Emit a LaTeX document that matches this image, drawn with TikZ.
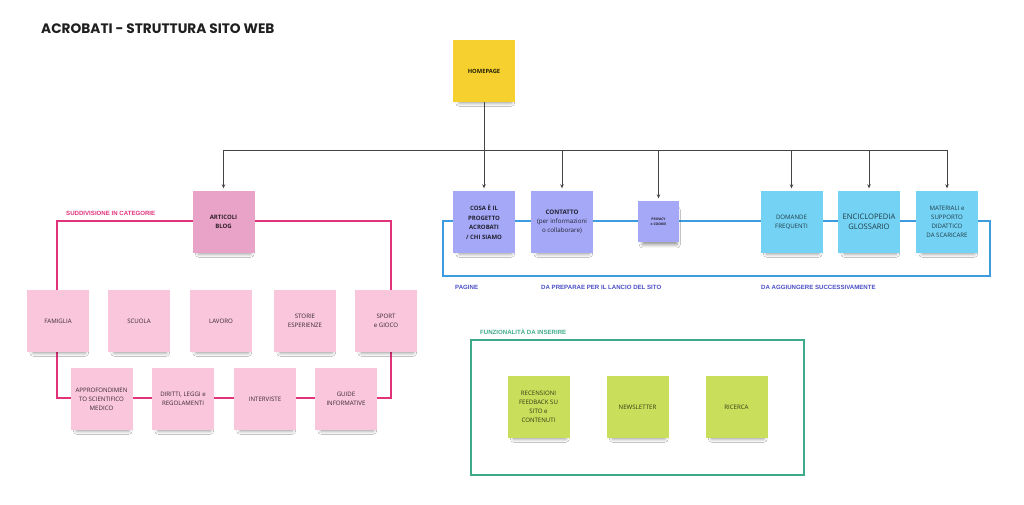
\documentclass[tikz,border=0pt]{standalone}
\usepackage{fontspec}
\setmainfont{Open Sans}
\newfontfamily\titlefont{Poppins}
\newfontfamily\labfont{Liberation Sans}
\usetikzlibrary{arrows.meta,shadows.blur}
\definecolor{yel}{HTML}{F5D02E}
\definecolor{pinkd}{HTML}{E9A2C8}
\definecolor{pinkl}{HTML}{F9C6DB}
\definecolor{lav}{HTML}{A5A8F6}
\definecolor{cyan2}{HTML}{74D3F5}
\definecolor{lime}{HTML}{C9DE5A}
\definecolor{pinkline}{HTML}{E2337A}
\definecolor{blueline}{HTML}{3D9CE0}
\definecolor{bluelab}{HTML}{4A4FC6}
\definecolor{greenline}{HTML}{3FAA8A}
\definecolor{conn}{HTML}{444444}
\tikzset{
  note/.style={minimum width=62pt, minimum height=62pt, inner sep=1pt, align=center,
    font=\fontsize{6.1}{9}\selectfont,
    blur shadow={shadow xshift=1.5pt, shadow yshift=-7pt, shadow blur radius=4pt, shadow opacity=45, shadow scale=0.84}},
  pinknote/.style={note, fill=pinkl, text=black!75!pinkd},
  bluenote/.style={note, fill=lav, text=black!80!lav},
  cyannote/.style={note, fill=cyan2, text=black!72!cyan2},
  greennote/.style={note, fill=lime, text=black!75!lime},
  conline/.style={draw=conn, line width=0.9pt},
  arr/.style={conline, -{Stealth[length=4pt,width=3.5pt]}, shorten >=2.5pt},
  seclab/.style={anchor=west, inner sep=0pt, font=\labfont\bfseries\fontsize{6.1}{7}\selectfont},
  frame/.style={line width=1.3pt}
}
\begin{document}
\begin{tikzpicture}[x=1pt,y=-1pt]
\useasboundingbox[fill=white] (0,0) rectangle (1024,505);

% frames
\draw[frame, draw=pinkline] (57,221) rectangle (391,398);
\draw[frame, draw=blueline] (443,221) rectangle (990,276);
\draw[frame, draw=greenline] (471,340) rectangle (804,475);

% title and labels
\node[anchor=west, inner sep=0pt, font=\titlefont\bfseries\fontsize{13.7}{15}\selectfont, text=black!88] (title) at (41,29) {ACROBATI - STRUTTURA SITO WEB};
\node[seclab, text=pinkline] (lsudd) at (66,213) {SUDDIVISIONE IN CATEGORIE};
\node[seclab, text=bluelab] (lpag) at (455,287) {PAGINE};
\node[seclab, text=bluelab] (llan) at (541,287) {DA PREPARAE PER IL LANCIO DEL SITO};
\node[seclab, text=bluelab] (lagg) at (761,287) {DA AGGIUNGERE SUCCESSIVAMENTE};
\node[seclab, text=greenline] (lfun) at (480,332) {FUNZIONALITÀ DA INSERIRE};

% tree connectors
\coordinate (j) at (484,150);
\coordinate (jl) at (223.5,150);
\coordinate (jr) at (947,150);
\node[note, fill=yel, text=black!85!yel, font=\bfseries\fontsize{5.8}{7}\selectfont] (home) at (484,71) {HOMEPAGE};
\draw[conline] (home.south) -- (j);
\draw[conline] (jl) -- (jr);

\node[note, fill=pinkd, text=black!80!pinkd, font=\bfseries\fontsize{6}{9}\selectfont] (blog) at (223.5,222) {ARTICOLI\\BLOG};
\node[bluenote, font=\bfseries\fontsize{6}{9.5}\selectfont] (cosa) at (484,222) {COSA È IL\\PROGETTO\\ACROBATI\\/ CHI SIAMO};
\node[bluenote, font=\fontsize{6.2}{9}\selectfont] (contatto) at (562,222) {\bfseries CONTATTO\\(per informazioni\\o collaborare)};
\node[bluenote, minimum width=41pt, minimum height=41pt, font=\bfseries\fontsize{3.4}{4.6}\selectfont] (privacy) at (658.5,221.5) {PRIVACY\\e COOKIE};
\node[cyannote] (domande) at (791.5,222) {DOMANDE\\FREQUENTI};
\node[cyannote, font=\fontsize{7.6}{10.5}\selectfont] (encic) at (869,222) {ENCICLOPEDIA\\GLOSSARIO};
\node[cyannote] (mater) at (947,222) {MATERIALI e\\SUPPORTO\\DIDATTICO\\DA SCARICARE};

\draw[arr] (blog.north |- j) -- (blog.north);
\draw[arr] (j) -- (cosa.north);
\draw[arr] (contatto.north |- j) -- (contatto.north);
\draw[arr] (privacy.north |- j) -- (privacy.north);
\draw[arr] (domande.north |- j) -- (domande.north);
\draw[arr] (encic.north |- j) -- (encic.north);
\draw[arr] (mater.north |- j) -- (mater.north);

% categories
\node[pinknote] (famiglia) at (58,321) {FAMIGLIA};
\node[pinknote] (scuola) at (139,321) {SCUOLA};
\node[pinknote] (lavoro) at (221,321) {LAVORO};
\node[pinknote] (storie) at (305,321) {STORIE\\ESPERIENZE};
\node[pinknote] (sport) at (386,321) {SPORT\\e GIOCO};
\node[pinknote] (appro) at (101.5,399) {APPROFONDIMEN\\TO SCIENTIFICO\\MEDICO};
\node[pinknote] (diritti) at (183,399) {DIRITTI, LEGGI e\\REGOLAMENTI};
\node[pinknote] (interv) at (265,399) {INTERVISTE};
\node[pinknote] (guide) at (346,399) {GUIDE\\INFORMATIVE};

% functionalities
\node[greennote] (recens) at (538.5,407) {RECENSIONI\\FEEDBACK SU\\SITO e\\CONTENUTI};
\node[greennote] (news) at (637.5,407) {NEWSLETTER};
\node[greennote] (ricerca) at (736.5,407) {RICERCA};
\end{tikzpicture}
\end{document}
